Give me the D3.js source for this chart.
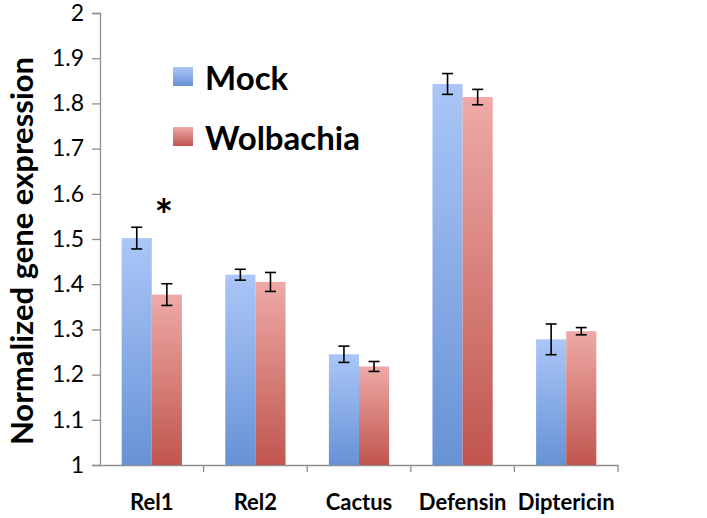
<!DOCTYPE html>
<html><head><meta charset="utf-8">
<script src="https://cdn.jsdelivr.net/npm/d3@7"></script>
<style>body{margin:0;background:#fff}svg{display:block}</style>
</head><body>
<script>
const categories = ["Rel1","Rel2","Cactus","Defensin","Diptericin"];
const seriesNames = ["Mock","Wolbachia"];
const mockValues = [1.502,1.421,1.245,1.843,1.278];
const mockErrors = [0.024,0.012,0.018,0.023,0.034];
const wolValues = [1.377,1.405,1.218,1.814,1.296];
const wolErrors = [0.024,0.021,0.011,0.017,0.008];
const yTicks = [1,1.1,1.2,1.3,1.4,1.5,1.6,1.7,1.8,1.9,2];
const yTickLabels = ["1","1.1","1.2","1.3","1.4","1.5","1.6","1.7","1.8","1.9","2"];
const significant = ["Rel1"];

const W=707,H=518;
const svg=d3.select("body").append("svg").attr("width",W).attr("height",H);
const defs=svg.append("defs");
function grad(id,top,bot){
  const g=defs.append("linearGradient").attr("id",id).attr("x1",0).attr("y1",0).attr("x2",0).attr("y2",1);
  g.append("stop").attr("offset","0%").attr("stop-color",top);
  g.append("stop").attr("offset","100%").attr("stop-color",bot);
}
grad("gBlue","#abc6f7","#6792d6");
grad("gRed","#eeaaa7","#c0554e");
const fills=["url(#gBlue)","url(#gRed)"];

const x0=d3.scaleBand().domain(categories).range([100,618]).paddingInner(0).paddingOuter(0);
const x1=d3.scaleBand().domain(seriesNames).range([0,x0.bandwidth()]).paddingInner(0).paddingOuter(0.72);
const y=d3.scaleLinear().domain([1,2]).range([465,13]);

const font="Lato, 'Open Sans', sans-serif";
const axisColor="#8f8f8f";

// y axis
const yAxis=svg.append("g").attr("transform","translate(100,0)")
  .call(d3.axisLeft(y).tickValues(yTicks).tickFormat((d,i)=>yTickLabels[i]).tickSize(8).tickPadding(8));
yAxis.select(".domain").attr("stroke",axisColor).attr("stroke-width",1.3);
yAxis.selectAll(".tick line").attr("stroke",axisColor).attr("stroke-width",1.3);
yAxis.selectAll(".tick text").attr("font-family",font).attr("font-size",23).attr("fill","#000");

// x axis
const xAxis=svg.append("g").attr("transform","translate(0,465)")
  .call(d3.axisBottom(x0).tickSize(0).tickPadding(29));
xAxis.select(".domain").attr("stroke",axisColor).attr("stroke-width",1.3);
xAxis.selectAll(".tick text").attr("font-family",font).attr("font-size",22).attr("font-weight","bold").attr("fill","#000");
// category boundary ticks
const bounds=categories.map(c=>x0(c)).concat([x0(categories[categories.length-1])+x0.bandwidth()]);
svg.append("g").selectAll("line").data(bounds.slice(1)).join("line")
  .attr("x1",d=>d).attr("x2",d=>d).attr("y1",465).attr("y2",472)
  .attr("stroke",axisColor).attr("stroke-width",1.3);

// bars
const data=categories.map((c,i)=>({cat:c,vals:[
  {s:seriesNames[0],v:mockValues[i],e:mockErrors[i],k:0},
  {s:seriesNames[1],v:wolValues[i],e:wolErrors[i],k:1}]}));
const groups=svg.append("g").selectAll("g").data(data).join("g")
  .attr("transform",d=>`translate(${x0(d.cat)},0)`);
groups.selectAll("rect").data(d=>d.vals).join("rect")
  .attr("x",d=>x1(d.s)).attr("width",x1.bandwidth())
  .attr("y",d=>y(d.v)).attr("height",d=>y(1)-y(d.v))
  .attr("fill",d=>fills[d.k]);
// error bars
const eb=groups.selectAll("g.eb").data(d=>d.vals).join("g").attr("class","eb");
const cx=d=>x1(d.s)+x1.bandwidth()/2;
eb.append("line").attr("x1",cx).attr("x2",cx).attr("y1",d=>y(d.v+d.e)).attr("y2",d=>y(d.v-d.e)).attr("stroke","#000").attr("stroke-width",1.6);
eb.append("line").attr("x1",d=>cx(d)-5.5).attr("x2",d=>cx(d)+5.5).attr("y1",d=>y(d.v+d.e)).attr("y2",d=>y(d.v+d.e)).attr("stroke","#000").attr("stroke-width",1.6);
eb.append("line").attr("x1",d=>cx(d)-5.5).attr("x2",d=>cx(d)+5.5).attr("y1",d=>y(d.v-d.e)).attr("y2",d=>y(d.v-d.e)).attr("stroke","#000").attr("stroke-width",1.6);

// significance asterisk
significant.forEach(c=>{
  const i=categories.indexOf(c);
  const top=Math.max(mockValues[i]+mockErrors[i],wolValues[i]+wolErrors[i]);
  svg.append("text").attr("x",x0(c)+x0.bandwidth()/2+12).attr("y",y(top)+4)
    .attr("text-anchor","middle").attr("font-family",font).attr("font-size",44).attr("font-weight","bold").text("*");
});

// y title
svg.append("text").attr("transform","translate(33,251) rotate(-90)")
  .attr("text-anchor","middle").attr("font-family",font).attr("font-size",31).attr("font-weight","bold")
  .text("Normalized gene expression");

// legend
const leg=svg.append("g").selectAll("g").data(seriesNames).join("g")
  .attr("transform",(d,i)=>`translate(173,${67+i*60})`);
leg.append("rect").attr("width",20).attr("height",19).attr("fill",(d,i)=>fills[i]);
leg.append("text").attr("x",32).attr("y",23).attr("font-family",font).attr("font-size",33).attr("font-weight","bold").text(d=>d);
</script>
</body></html>
